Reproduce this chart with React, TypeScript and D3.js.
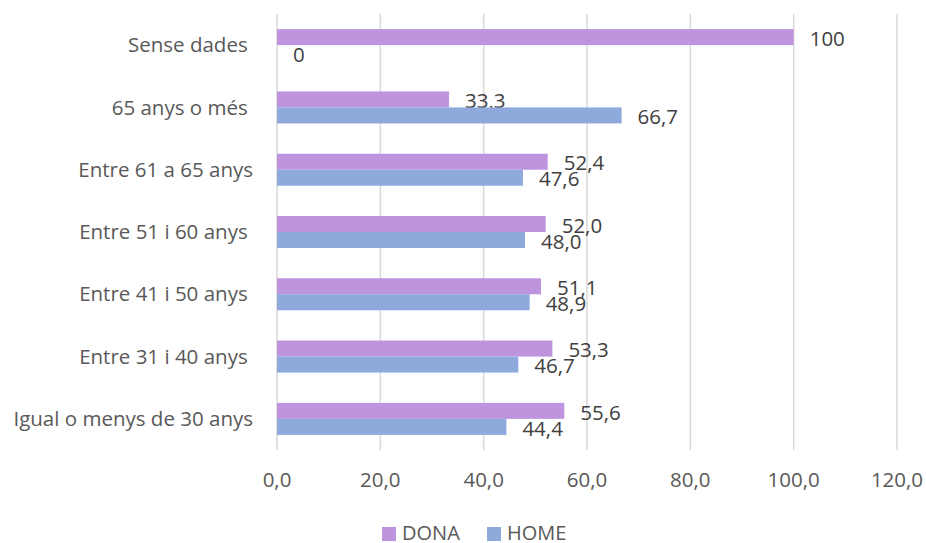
import React from "react";
import * as d3 from "d3";

const categories = [
  "Sense dades\u00A0",
  "65 anys o més\u00A0",
  "Entre 61 a 65 anys",
  "Entre 51 i 60 anys\u00A0",
  "Entre 41 i 50 anys\u00A0",
  "Entre 31 i 40 anys\u00A0",
  "Igual o menys de 30 anys",
];
const dona = [100, 33.3, 52.4, 52.0, 51.1, 53.3, 55.6];
const home = [0, 66.7, 47.6, 48.0, 48.9, 46.7, 44.4];
const donaLabels = ["100", "33,3", "52,4", "52,0", "51,1", "53,3", "55,6"];
const homeLabels = ["0", "66,7", "47,6", "48,0", "48,9", "46,7", "44,4"];
const xTicks = [0, 20, 40, 60, 80, 100, 120];

const series = [
  { name: "DONA", color: "#BF94DF", values: dona, labels: donaLabels },
  { name: "HOME", color: "#8EA9DB", values: home, labels: homeLabels },
];

const width = 926;
const height = 543;
const margin = { top: 14, right: 29, bottom: 93, left: 277 };
const font = "'Open Sans', sans-serif";

export default function App() {
  const x = d3.scaleLinear().domain([0, 120]).range([margin.left, width - margin.right]);
  const y = d3
    .scaleBand()
    .domain(categories)
    .range([margin.top, height - margin.bottom])
    .paddingInner(0.486)
    .paddingOuter(0.243);
  const inner = d3.scaleBand().domain(series.map((s) => s.name)).range([0, y.bandwidth()]);
  const fmt = (v: number) => d3.format(".1f")(v).replace(".", ",");

  return (
    <svg width={width} height={height} style={{ position: "absolute", left: 0, top: 0 }}>
      <rect width={width} height={height} fill="#fff" />
      {xTicks.map((t) => (
        <g key={t}>
          <line x1={x(t)} x2={x(t)} y1={margin.top} y2={height - margin.bottom} stroke="#D9D9D9" strokeWidth={1.5} />
          <text x={x(t)} y={480} dy="0.35em" textAnchor="middle" fontFamily={font} fontSize={20.5} fill="#595959">
            {fmt(t)}
          </text>
        </g>
      ))}
      {categories.map((c) => (
        <text
          key={c}
          x={253}
          y={(y(c) as number) + y.bandwidth() / 2}
          dy="0.35em"
          textAnchor="end"
          fontFamily={font}
          fontSize={20.5}
          fill="#595959"
          style={{ whiteSpace: "pre" }}
        >
          {c}
        </text>
      ))}
      {series.map((s) => (
        <g key={s.name}>
          {categories.map((c, i) => {
            const by = (y(c) as number) + (inner(s.name) as number);
            return (
              <g key={c}>
                <rect x={x(0)} y={by} width={x(s.values[i]) - x(0)} height={inner.bandwidth()} fill={s.color} />
                <text
                  x={x(s.values[i]) + 16}
                  y={by + inner.bandwidth() / 2 + 1.5}
                  dy="0.35em"
                  fontFamily={font}
                  fontSize={20.5}
                  fill="#404040"
                >
                  {s.labels[i]}
                </text>
              </g>
            );
          })}
        </g>
      ))}
      {series.map((s, i) => {
        const lx = [382, 487][i];
        return (
          <g key={s.name}>
            <rect x={lx} y={527} width={14} height={14} fill={s.color} />
            <text x={lx + 20} y={533} dy="0.35em" fontFamily={font} fontSize={20} fill="#595959">
              {s.name}
            </text>
          </g>
        );
      })}
    </svg>
  );
}
